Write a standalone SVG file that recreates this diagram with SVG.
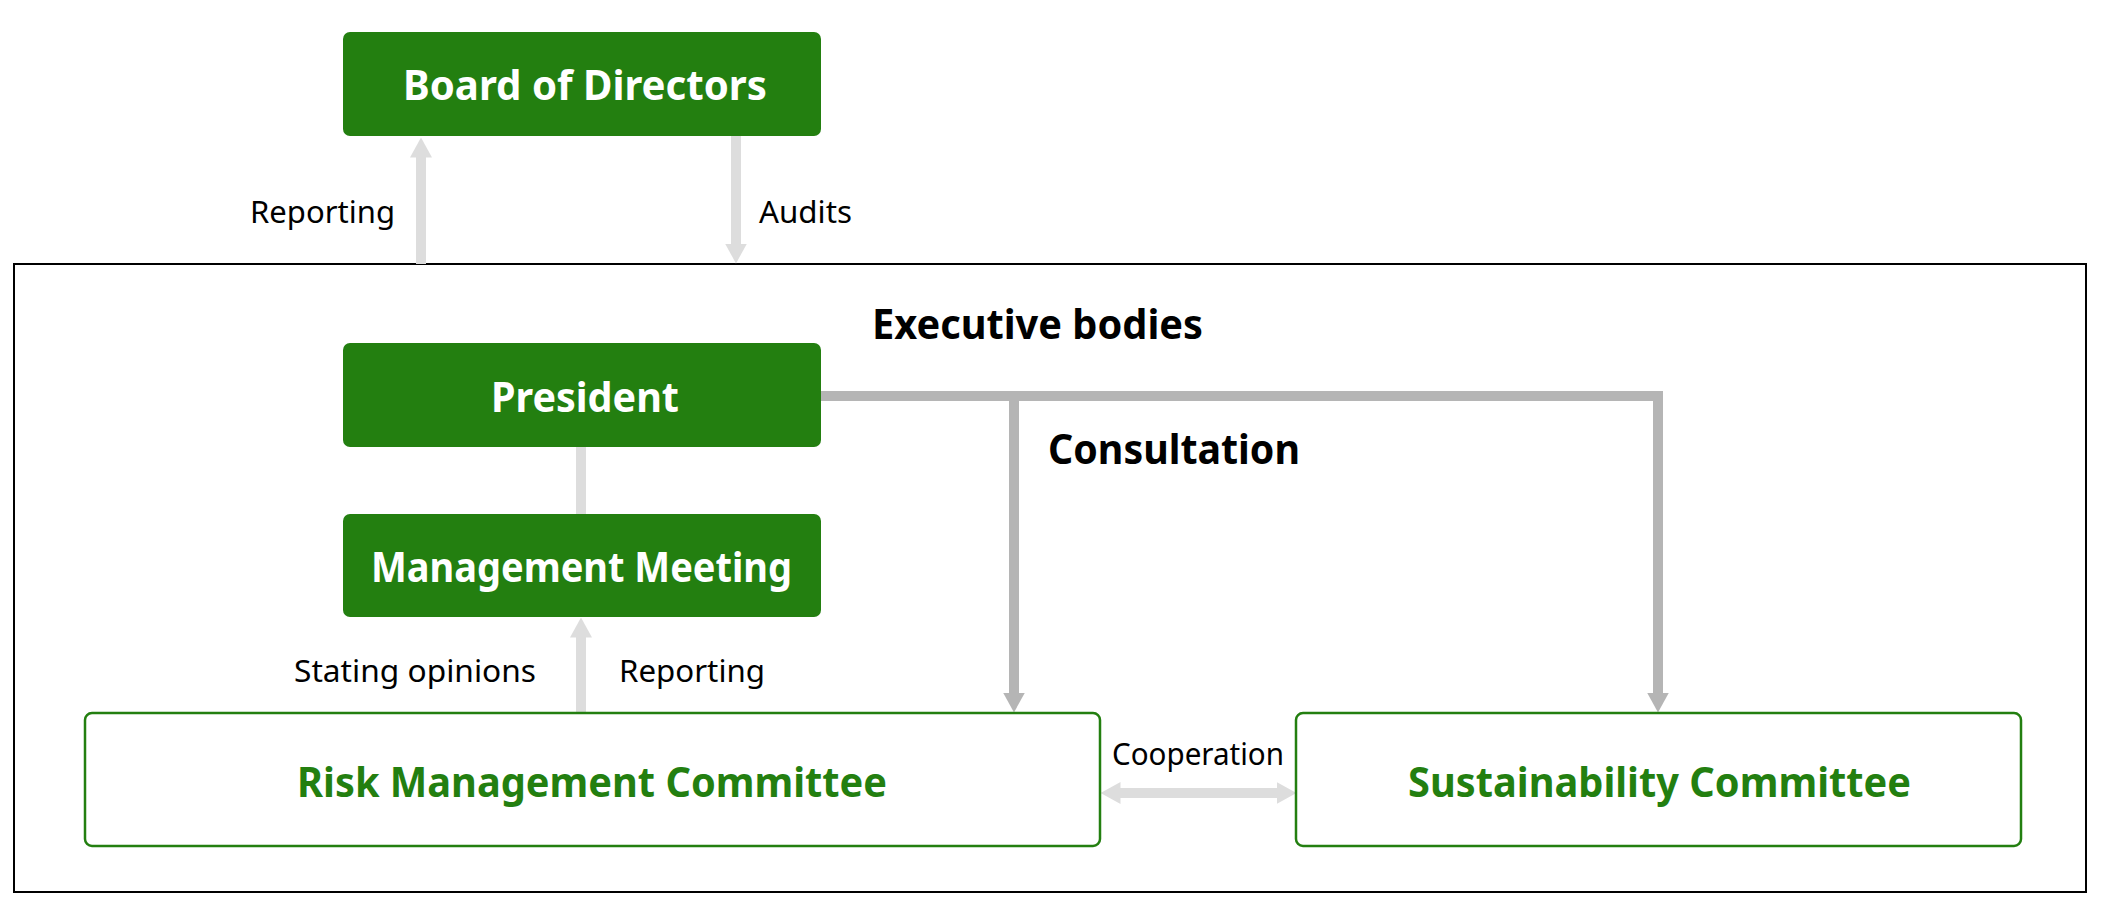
<svg xmlns="http://www.w3.org/2000/svg" width="2102" height="914" viewBox="0 0 2102 914">
<defs>
<style>
.solid{fill:#237f10;}
.outline{fill:#ffffff;stroke:#237f10;stroke-width:2.5;}
.wt{fill:#ffffff;font-family:"Noto Sans","Liberation Sans",sans-serif;font-weight:bold;font-size:42px;}
.gt{fill:#237f10;font-family:"Noto Sans","Liberation Sans",sans-serif;font-weight:bold;font-size:42px;}
.bt{fill:#000000;font-family:"Noto Sans","Liberation Sans",sans-serif;font-weight:bold;font-size:42px;}
.lt{fill:#000000;font-family:"Noto Sans","Liberation Sans",sans-serif;font-size:31px;}
.light{stroke:#dddddd;stroke-width:10;fill:none;}
.dark{stroke:#b5b5b5;stroke-width:10;fill:none;stroke-linejoin:miter;}
</style>
<marker id="hl" viewBox="0 0 20 22" refX="0.5" refY="11" markerWidth="20" markerHeight="22" markerUnits="userSpaceOnUse" orient="auto-start-reverse"><path d="M0,0 L20,11 L0,22 Z" fill="#dddddd"/></marker>
<marker id="hd" viewBox="0 0 20 22" refX="0.5" refY="11" markerWidth="20" markerHeight="22" markerUnits="userSpaceOnUse" orient="auto"><path d="M0,0 L20,11 L0,22 Z" fill="#b5b5b5"/></marker>
</defs>
<rect width="2102" height="914" fill="#ffffff"/>
<g id="executive-bodies">
<rect x="14" y="264" width="2072" height="628" fill="none" stroke="#000000" stroke-width="2"/>
<text class="bt" x="872" y="339" textLength="331" lengthAdjust="spacingAndGlyphs">Executive bodies</text>
</g>
<g id="connectors">
<line class="light" x1="421" y1="264" x2="421" y2="157" marker-end="url(#hl)"/>
<line class="light" x1="736" y1="136" x2="736" y2="244" marker-end="url(#hl)"/>
<line class="light" x1="581" y1="447" x2="581" y2="514"/>
<line class="light" x1="581" y1="713" x2="581" y2="637" marker-end="url(#hl)"/>
<path class="dark" d="M820,396 H1658 V693" marker-end="url(#hd)"/>
<line class="dark" x1="1014" y1="396" x2="1014" y2="693" marker-end="url(#hd)"/>
<line class="light" x1="1120" y1="793" x2="1277" y2="793" marker-start="url(#hl)" marker-end="url(#hl)"/>
<text class="lt" x="250" y="223" textLength="145" lengthAdjust="spacingAndGlyphs">Reporting</text>
<text class="lt" x="759" y="223" textLength="93" lengthAdjust="spacingAndGlyphs">Audits</text>
<text class="bt" x="1048" y="464" textLength="252" lengthAdjust="spacingAndGlyphs">Consultation</text>
<text class="lt" x="294" y="682" textLength="242" lengthAdjust="spacingAndGlyphs">Stating opinions</text>
<text class="lt" x="619" y="682" textLength="146" lengthAdjust="spacingAndGlyphs">Reporting</text>
<text class="lt" x="1112" y="765" textLength="172" lengthAdjust="spacingAndGlyphs">Cooperation</text>
</g>
<g id="board">
<rect class="solid" x="343" y="32" width="478" height="104" rx="7"/>
<text class="wt" x="403" y="100" textLength="364" lengthAdjust="spacingAndGlyphs">Board of Directors</text>
</g>
<g id="president">
<rect class="solid" x="343" y="343" width="478" height="104" rx="7"/>
<text class="wt" x="491" y="412" textLength="188" lengthAdjust="spacingAndGlyphs">President</text>
</g>
<g id="management-meeting">
<rect class="solid" x="343" y="514" width="478" height="103" rx="7"/>
<text class="wt" x="371" y="582" textLength="421" lengthAdjust="spacingAndGlyphs">Management Meeting</text>
</g>
<g id="risk-committee">
<rect class="outline" x="85" y="713" width="1015" height="133" rx="7"/>
<text class="gt" x="297" y="797" textLength="590" lengthAdjust="spacingAndGlyphs">Risk Management Committee</text>
</g>
<g id="sustainability-committee">
<rect class="outline" x="1296" y="713" width="725" height="133" rx="7"/>
<text class="gt" x="1408" y="797" textLength="503" lengthAdjust="spacingAndGlyphs">Sustainability Committee</text>
</g>
</svg>
